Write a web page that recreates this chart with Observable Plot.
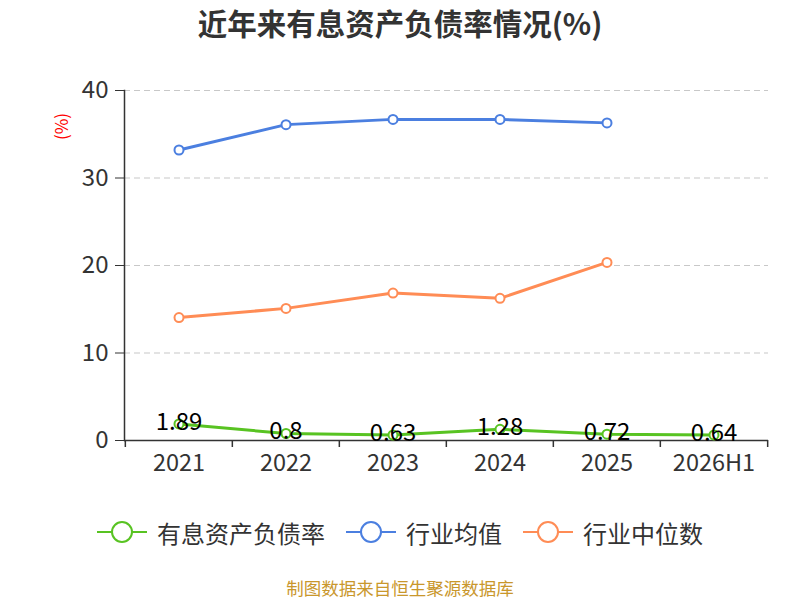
<!DOCTYPE html>
<html><head><meta charset="utf-8">
<script src="https://cdn.jsdelivr.net/npm/d3@7"></script>
<script src="https://cdn.jsdelivr.net/npm/@observablehq/plot@0.6"></script>
<style>
body{margin:0;background:#fff;font-family:"Noto Sans CJK SC","Noto Sans",sans-serif;}
#wrap{width:800px;height:600px;overflow:hidden;}
#title{height:46px;line-height:44px;text-align:center;font-size:29.5px;font-weight:bold;color:#333;}
#chart{height:444px;}
#legend{height:96px;display:flex;justify-content:center;align-items:center;padding-left:0px;box-sizing:border-box;padding-bottom:12px;}
.item{display:flex;align-items:center;margin:0 10.5px;font-size:24px;color:#333;}
.item svg{margin-right:10px;}
#caption{text-align:center;font-size:17.5px;color:#c9972c;line-height:20px;margin-top:-8px;}
</style></head>
<body><div id="wrap">
<div id="title">近年来有息资产负债率情况(%)</div>
<div id="chart"></div>
<div id="legend"></div>
<div id="caption">制图数据来自恒生聚源数据库</div>
</div>
<script>
const categories = ["2021","2022","2023","2024","2025","2026H1"];
const ratio = [1.89, 0.8, 0.63, 1.28, 0.72, 0.64];
const industryMean = [33.2, 36.1, 36.7, 36.7, 36.3];
const industryMedian = [14.05, 15.1, 16.85, 16.25, 20.35];
const yTicks = [0, 10, 20, 30, 40];
const seriesNames = ["有息资产负债率", "行业均值", "行业中位数"];
const colors = ["#58c322", "#4b7fe0", "#ff8c55"];

const toRows = (vals) => vals.map((v, i) => ({cat: categories[i], value: v}));
const ratioRows = toRows(ratio);
const meanRows = toRows(industryMean);
const medianRows = toRows(industryMedian);

const W = 800, ML = 124, MR = 32;
const bw = (W - ML - MR) / categories.length;

const chart = Plot.plot({
  width: W, height: 444,
  marginTop: 44, marginBottom: 50, marginLeft: ML, marginRight: MR,
  style: {fontFamily: '"Noto Sans CJK SC","Noto Sans",sans-serif', color: "#333", background: "#fff"},
  x: {type: "band", domain: categories, padding: 0},
  y: {domain: [0, 40]},
  marks: [
    Plot.gridY([10, 20, 30, 40], {stroke: "#c8c8c8", strokeOpacity: 1, strokeDasharray: "6,4", strokeWidth: 1.2}),
    Plot.ruleY([0], {stroke: "#333", strokeWidth: 1.5}),
    Plot.frame({anchor: "left", stroke: "#333", strokeWidth: 1.5}),
    Plot.ruleX(categories, {x: d => d, y1: 0, y2: -0.8, dx: -bw / 2, stroke: "#333", strokeWidth: 1.5}),
    Plot.ruleX([categories[categories.length - 1]], {x: d => d, y1: 0, y2: -0.8, dx: bw / 2, stroke: "#333", strokeWidth: 1.5}),
    Plot.axisY({ticks: yTicks, tickSize: 9, tickPadding: 7, fontSize: 24, tickFormat: d => String(d), stroke: "#333", label: null}),
    Plot.axisX({tickSize: 0, tickPadding: 14, fontSize: 23.5, label: null}),
    Plot.text(["(%)"], {frameAnchor: "top-left", dx: -62, dy: 36, rotate: -90, fill: "red", fontSize: 17, lineAnchor: "middle", textAnchor: "middle"}),
    Plot.line(meanRows, {x: "cat", y: "value", stroke: colors[1], strokeWidth: 3}),
    Plot.dot(meanRows, {x: "cat", y: "value", r: 4.5, fill: "#fff", stroke: colors[1], strokeWidth: 2}),
    Plot.line(medianRows, {x: "cat", y: "value", stroke: colors[2], strokeWidth: 3}),
    Plot.dot(medianRows, {x: "cat", y: "value", r: 4.5, fill: "#fff", stroke: colors[2], strokeWidth: 2}),
    Plot.line(ratioRows, {x: "cat", y: "value", stroke: colors[0], strokeWidth: 3}),
    Plot.dot(ratioRows, {x: "cat", y: "value", r: 4.5, fill: "#fff", stroke: colors[0], strokeWidth: 2}),
    Plot.text(ratioRows, {x: "cat", y: "value", text: d => String(d.value), fill: "#000", fontSize: 24, dy: -2})
  ]
});
document.getElementById("chart").appendChild(chart);

const legend = document.getElementById("legend");
seriesNames.forEach((name, i) => {
  const item = document.createElement("div");
  item.className = "item";
  item.innerHTML = `<svg width="50" height="26"><line x1="0" y1="13" x2="50" y2="13" stroke="${colors[i]}" stroke-width="2"/><circle cx="25" cy="13" r="10" fill="#fff" stroke="${colors[i]}" stroke-width="2"/></svg><span>${name}</span>`;
  legend.appendChild(item);
});
</script>
</body></html>
